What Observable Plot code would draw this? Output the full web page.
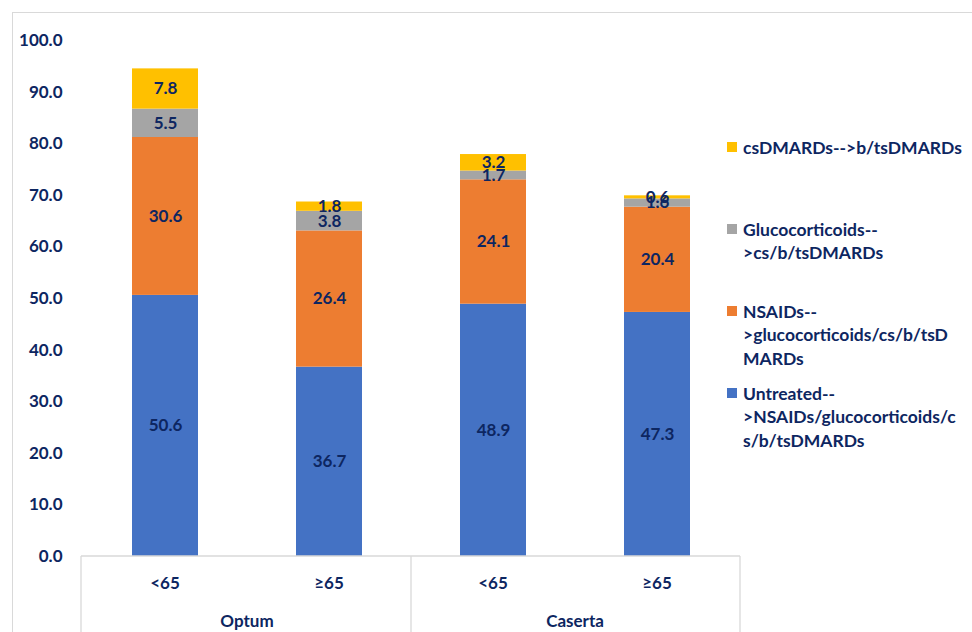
<!DOCTYPE html>
<html>
<head>
<meta charset="utf-8">
<script src="https://cdn.jsdelivr.net/npm/d3@7"></script>
<script src="https://cdn.jsdelivr.net/npm/@observablehq/plot@0.6"></script>
<style>
  html, body { margin: 0; padding: 0; background: #fff; }
  #wrap { position: relative; width: 972px; height: 632px; overflow: hidden; }
  #frame { position: absolute; left: 12px; top: 12px; width: 1000px; height: 700px; border: 1px solid #d9d9d9; box-sizing: border-box; pointer-events: none; }
  #chart { position: absolute; left: 0; top: 0; }
</style>
</head>
<body>
<div id="wrap"><div id="frame"></div><div id="chart"></div></div>
<script>
const keys = ["Optum|<65", "Optum|≥65", "Caserta|<65", "Caserta|≥65"];
const groups = ["Optum", "Optum", "Caserta", "Caserta"];
const ages = ["<65", "≥65", "<65", "≥65"];
const groupNames = ["Optum", "Caserta"];

const series = [
  "Untreated-->NSAIDs/glucocorticoids/cs/b/tsDMARDs",
  "NSAIDs-->glucocorticoids/cs/b/tsDMARDs",
  "Glucocorticoids-->cs/b/tsDMARDs",
  "csDMARDs-->b/tsDMARDs"
];
const colors = ["#4472C4", "#ED7D31", "#A5A5A5", "#FFC000"];

const untreated = [50.6, 36.7, 48.9, 47.3];
const nsaids = [30.6, 26.4, 24.1, 20.4];
const gluco = [5.5, 3.8, 1.7, 1.6];
const csdmards = [7.8, 1.8, 3.2, 0.6];
const values = [untreated, nsaids, gluco, csdmards];

// legend lines as wrapped in the original (top to bottom)
const legendLines = [
  ["csDMARDs-->b/tsDMARDs"],
  ["Glucocorticoids--", ">cs/b/tsDMARDs"],
  ["NSAIDs--", ">glucocorticoids/cs/b/tsD", "MARDs"],
  ["Untreated--", ">NSAIDs/glucocorticoids/c", "s/b/tsDMARDs"]
];
const legendSeriesIndex = [3, 2, 1, 0];

const yTicks = [0, 10, 20, 30, 40, 50, 60, 70, 80, 90, 100];

const navy = "#0D2661";
const font = "Lato, 'Open Sans', sans-serif";

const data = [];
keys.forEach((k, i) => {
  series.forEach((s, j) => {
    data.push({key: k, series: s, value: values[j][i]});
  });
});

function decorations(index, scales, vals, dims) {
  const x = scales.x;
  const y = scales.y;
  const bw = x.bandwidth ? x.bandwidth() : 66;
  const left = dims.marginLeft;
  const right = dims.width - dims.marginRight;
  const y0 = y(0);
  const bottom = dims.height;
  const g = d3.create("svg:g").attr("text-anchor", "start");
  const line = "#d9d9d9";
  // baseline
  g.append("line").attr("x1", left).attr("x2", right).attr("y1", y0).attr("y2", y0)
    .attr("stroke", line).attr("stroke-width", 1.3);
  // vertical separators
  const mid = (x(keys[1]) + bw + x(keys[2])) / 2;
  [left, mid, right].forEach(xv => {
    g.append("line").attr("x1", xv).attr("x2", xv).attr("y1", y0).attr("y2", bottom)
      .attr("stroke", line).attr("stroke-width", 1.3);
  });
  // age labels
  keys.forEach((k, i) => {
    g.append("text").attr("x", x(k) + bw / 2).attr("y", y0 + 26)
      .attr("text-anchor", "middle").attr("dominant-baseline", "central")
      .attr("fill", navy).attr("font-size", 17).attr("font-weight", "bold")
      .attr("font-family", font).text(ages[i]);
  });
  // group labels
  groupNames.forEach(gn => {
    const ks = keys.filter((k, i) => groups[i] === gn);
    const cx = (x(ks[0]) + x(ks[ks.length - 1]) + bw) / 2;
    g.append("text").attr("x", cx).attr("y", y0 + 64)
      .attr("text-anchor", "middle").attr("dominant-baseline", "central")
      .attr("fill", navy).attr("font-size", 17).attr("font-weight", "bold")
      .attr("font-family", font).text(gn);
  });
  // legend
  const lx = right - 13;
  legendLines.forEach((lines, i) => {
    const top = 147 + i * 82;
    const si = legendSeriesIndex[i];
    g.append("rect").attr("x", lx).attr("y", top - 5).attr("width", 10).attr("height", 10)
      .attr("fill", colors[si]);
    lines.forEach((t, j) => {
      g.append("text").attr("x", lx + 16).attr("y", top + j * 23.5)
        .attr("text-anchor", "start").attr("dominant-baseline", "central")
        .attr("fill", navy).attr("font-size", 17.5).attr("font-weight", "bold")
        .attr("font-family", font).text(t);
    });
  });
  return g.node();
}

const chart = Plot.plot({
  width: 972,
  height: 632,
  marginLeft: 81,
  marginRight: 232,
  marginTop: 40,
  marginBottom: 76,
  style: {fontFamily: font, background: "transparent", color: navy},
  x: {domain: keys, paddingInner: 0.6, paddingOuter: 0.3, axis: null},
  y: {domain: [0, 100], axis: null},
  color: {domain: series, range: colors},
  marks: [
    Plot.barY(data, {x: "key", y: "value", fill: "series", order: series}),
    Plot.text(data, Plot.stackY({
      x: "key", y: "value", z: "series", order: series,
      text: d => d.value.toFixed(1),
      fill: navy, fontSize: 17, fontWeight: "bold"
    })),
    Plot.axisY({
      ticks: yTicks, tickFormat: d => d.toFixed(1), tickSize: 0, tickPadding: 19,
      fontSize: 17, fontWeight: "bold", label: null, fill: navy
    }),
    decorations
  ]
});
document.getElementById("chart").appendChild(chart);
</script>
</body>
</html>
